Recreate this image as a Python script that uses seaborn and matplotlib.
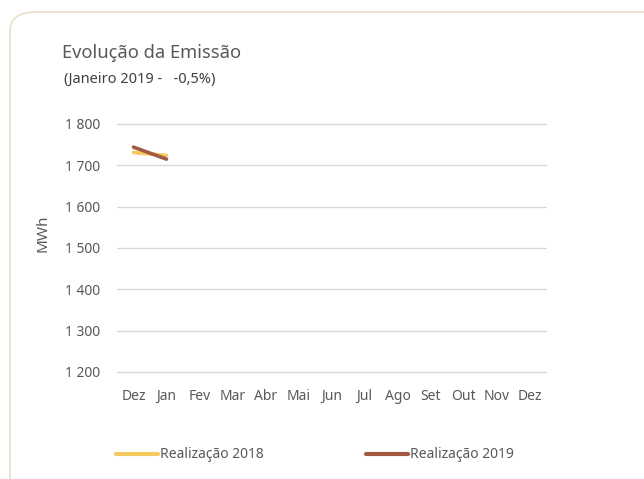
import matplotlib
matplotlib.use('Agg')
import matplotlib.pyplot as plt
from matplotlib.patches import FancyBboxPatch
from matplotlib.lines import Line2D
import pandas as pd
import seaborn as sns

# dados
meses = ['Dez', 'Jan', 'Fev', 'Mar', 'Abr', 'Mai', 'Jun', 'Jul', 'Ago', 'Set', 'Out', 'Nov', 'Dez']
real_2018 = [1731, 1724]
real_2019 = [1744, 1715]
series = ['Realização 2018', 'Realização 2019']
y_ticks = [1200, 1300, 1400, 1500, 1600, 1700, 1800]

cores = {'Realização 2018': '#F5C95E', 'Realização 2019': '#A35A45'}

df = pd.DataFrame({
    'pos': list(range(len(real_2018))) + list(range(len(real_2019))),
    'valor': real_2018 + real_2019,
    'serie': [series[0]] * len(real_2018) + [series[1]] * len(real_2019),
})

sns.set_style('white')
plt.rcParams['font.family'] = ['Noto Sans', 'DejaVu Sans']
cinza = '#595959'

W, H = 644, 479
fig = plt.figure(figsize=(W / 100, H / 100), dpi=100)

# moldura arredondada
moldura = FancyBboxPatch((10 / W, -0.05), 1.2, 1.05 - 12 / H,
                         boxstyle='round,pad=0,rounding_size=0.04',
                         transform=fig.transFigure, facecolor='white',
                         edgecolor='#E6DEC6', linewidth=1.2, zorder=-5)
fig.patches.append(moldura)

ax = fig.add_axes([117 / W, (H - 372) / H, (546 - 117) / W, (372 - 124) / H])
ax.set_facecolor('none')

sns.lineplot(data=df, x='pos', y='valor', hue='serie', palette=cores,
             linewidth=2.6, legend=False, ax=ax)

ax.set_xlim(-0.5, len(meses) - 0.5)
ax.set_ylim(1200, 1800)
ax.set_xticks(range(len(meses)))
ax.set_xticklabels(meses)
ax.set_yticks(y_ticks)
ax.set_yticklabels([f'{v // 1000} {v % 1000:03d}' for v in y_ticks])
ax.tick_params(axis='both', length=0, labelsize=10, colors=cinza)
ax.tick_params(axis='x', pad=12)
ax.tick_params(axis='y', pad=12)
ax.grid(axis='y', color='#D9D9D9', linewidth=1)
for gl in ax.get_ygridlines():
    gl.set_clip_on(False)
ax.set_axisbelow(True)
for s in ax.spines.values():
    s.set_visible(False)
ax.set_xlabel('')
ax.set_ylabel('MWh', fontsize=11, color=cinza)
ax.yaxis.set_label_coords((50 - 117) / 429, (372 - 233) / 248)

fig.text(62 / W, 1 - 53 / H, 'Evolução da Emissão', fontsize=13.2,
         color=cinza, va='center', ha='left')
fig.text(64 / W, 1 - 79 / H, '(Janeiro 2019 -   -0,5%)', fontsize=10.5,
         color='#404040', va='center', ha='left')

handles = [Line2D([], [], color=cores[s], linewidth=3) for s in series]
fig.legend(handles, series, loc='center left', ncol=2,
           bbox_to_anchor=(116 / W, (H - 455) / H), frameon=False,
           fontsize=10, labelcolor=cinza, borderpad=0, borderaxespad=0,
           handlelength=3.0, handletextpad=0.15, columnspacing=7.4)

fig.savefig('out.png', dpi=100)
